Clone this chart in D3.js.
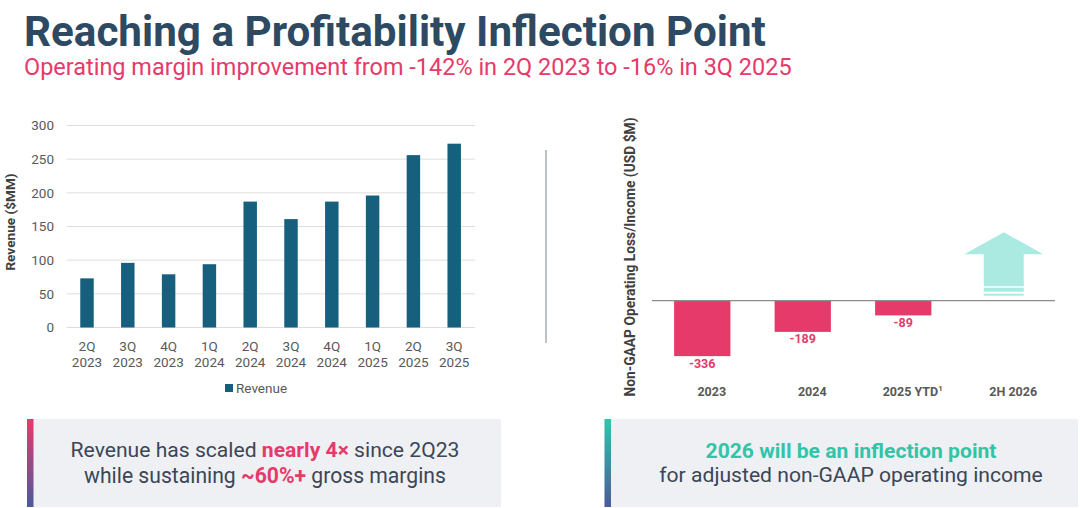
<!DOCTYPE html>
<html>
<head>
<meta charset="utf-8">
<script src="https://cdn.jsdelivr.net/npm/d3@7"></script>
<style>
  html, body { margin: 0; padding: 0; background: #fff; }
  svg { display: block; font-family: Roboto, "Noto Sans", sans-serif; }
</style>
</head>
<body>
<svg id="chart" width="1080" height="508"></svg>
<script>
// revenue by quarter ($MM)
const quarters = ['2Q 2023', '3Q 2023', '4Q 2023', '1Q 2024', '2Q 2024', '3Q 2024', '4Q 2024', '1Q 2025', '2Q 2025', '3Q 2025']
const revenue = [73, 96, 79, 94, 187, 161, 187, 196, 256, 273]
const revenueTicks = [0, 50, 100, 150, 200, 250, 300]

// non-GAAP operating loss/income (USD $M)
const periods = ['2023', '2024', '2025 YTD', '2H 2026']
const opIncome = [-336, -189, -89, null]

const PINK = '#e63a6a'
const TEAL = '#33c4a8'
const NAVY = '#2e4a62'
const GRAY = '#595959'
const BODY = '#3b4656'

const svg = d3.select('#chart')
const defs = svg.append('defs')

// scale a text's font so it spans the width it has in the slide
function fitWidth(sel, width) {
  const size = +sel.attr('font-size')
  const w = sel.node().getBBox().width
  if (w > 0) sel.attr('font-size', (size * width) / w)
  return sel
}

// ---- titles
const title = svg.append('text')
  .attr('x', 24).attr('y', 45.5)
  .attr('font-size', 42).attr('font-weight', 700)
  .attr('fill', NAVY)
  .text('Reaching a Profitability Inflection Point')
fitWidth(title, 742)

const subtitle = svg.append('text')
  .attr('x', 24).attr('y', 75)
  .attr('font-size', 23.5)
  .attr('fill', PINK)
  .text('Operating margin improvement from -142% in 2Q 2023 to -16% in 3Q 2025')
fitWidth(subtitle, 768)

// ---- left: revenue bars
const x = d3.scaleBand().domain(quarters).range([66.6, 474.6]).paddingInner(0.67).paddingOuter(0.335)
const y = d3.scaleLinear().domain([0, 300]).range([327.5, 125.5])

const left = svg.append('g')

left.append('g')
  .selectAll('line')
  .data(revenueTicks)
  .join('line')
  .attr('x1', 67).attr('x2', 475)
  .attr('y1', (d) => y(d)).attr('y2', (d) => y(d))
  .attr('stroke', '#dedede').attr('stroke-width', 1)

left.append('g')
  .selectAll('text')
  .data(revenueTicks)
  .join('text')
  .attr('x', 54).attr('y', (d) => y(d))
  .attr('dy', '0.35em')
  .attr('text-anchor', 'end')
  .attr('font-size', 13.5).attr('fill', GRAY)
  .text((d) => d)

left.append('g')
  .selectAll('rect')
  .data(revenue)
  .join('rect')
  .attr('x', (d, i) => x(quarters[i]))
  .attr('width', x.bandwidth())
  .attr('y', (d) => y(d))
  .attr('height', (d) => y(0) - y(d))
  .attr('fill', '#16607e')

const xl = left.append('g')
  .selectAll('text')
  .data(quarters)
  .join('text')
  .attr('x', (d) => x(d) + x.bandwidth() / 2)
  .attr('y', 351)
  .attr('text-anchor', 'middle')
  .attr('font-size', 13.5).attr('fill', GRAY)
xl.append('tspan').text((d) => d.split(' ')[0])
xl.append('tspan')
  .attr('x', (d) => x(d) + x.bandwidth() / 2)
  .attr('dy', 15.5)
  .text((d) => d.split(' ')[1])

left.append('text')
  .attr('transform', 'translate(15, 222) rotate(-90)')
  .attr('text-anchor', 'middle')
  .attr('font-size', 13.6).attr('font-weight', 700).attr('fill', '#404040')
  .text('Revenue ($MM)')

left.append('rect')
  .attr('x', 225).attr('y', 384).attr('width', 8).attr('height', 8)
  .attr('fill', '#16607e')
left.append('text')
  .attr('x', 236).attr('y', 388).attr('dy', '0.35em')
  .attr('font-size', 13.5).attr('fill', GRAY)
  .text('Revenue')

// divider
svg.append('line')
  .attr('x1', 546).attr('x2', 546).attr('y1', 150).attr('y2', 343)
  .attr('stroke', '#a9adb3').attr('stroke-width', 1.5)

// ---- right: operating loss / income
const x2 = d3.scaleBand().domain(periods).range([652, 1054]).paddingInner(0.44).paddingOuter(0.22)
const y2 = d3.scaleLinear().domain([-400, 400]).range([366.7, 234.7])

const right = svg.append('g')

right.append('g')
  .selectAll('rect')
  .data(opIncome.filter((d) => d != null))
  .join('rect')
  .attr('x', (d, i) => x2(periods[i]))
  .attr('width', x2.bandwidth())
  .attr('y', y2(0))
  .attr('height', (d) => y2(d) - y2(0))
  .attr('fill', PINK)

right.append('g')
  .selectAll('text')
  .data(opIncome.filter((d) => d != null))
  .join('text')
  .attr('x', (d, i) => x2(periods[i]) + x2.bandwidth() / 2)
  .attr('y', (d) => y2(d) + 11.5)
  .attr('text-anchor', 'middle')
  .attr('font-size', 12.5).attr('font-weight', 700).attr('fill', PINK)
  .text((d) => d)

right.append('line')
  .attr('x1', 652).attr('x2', 1055)
  .attr('y1', y2(0)).attr('y2', y2(0))
  .attr('stroke', '#8c8c8c').attr('stroke-width', 1.3)

// up arrow for the 2H 2026 outlook
const ax = x2('2H 2026') + x2.bandwidth() / 2
const y0 = y2(0)
const arrow = right.append('g').attr('fill', '#abeae0')
arrow.append('path')
  .attr('d', `M${ax},${y0 - 68.5} L${ax + 39.5},${y0 - 46.5} L${ax + 20},${y0 - 46.5} L${ax + 20},${y0 - 14.5} ` +
    `L${ax - 20},${y0 - 14.5} L${ax - 20},${y0 - 46.5} L${ax - 39.5},${y0 - 46.5} Z`)
arrow.append('rect').attr('x', ax - 20).attr('width', 40).attr('y', y0 - 13).attr('height', 4)
arrow.append('rect').attr('x', ax - 20).attr('width', 40).attr('y', y0 - 7).attr('height', 2)

// category labels sit a little right of the bar centres in the original
const cl = right.append('g')
  .selectAll('text')
  .data(periods)
  .join('text')
  .attr('x', (d) => x2(d) + x2.bandwidth() / 2 + 9.5)
  .attr('y', 396)
  .attr('text-anchor', 'middle')
  .attr('font-size', 12.5).attr('font-weight', 700).attr('fill', GRAY)
  .text((d) => d)
cl.filter((d) => d === '2025 YTD')
  .append('tspan')
  .attr('font-size', 8).attr('dy', -5)
  .text('1')

right.append('text')
  .attr('transform', 'translate(635, 257) rotate(-90)')
  .attr('text-anchor', 'middle')
  .attr('font-size', 13.8).attr('font-weight', 700).attr('fill', '#404040')
  .text('Non-GAAP Operating Loss/Income (USD $M)')

// ---- callout boxes
function gradient(id, top, bottom) {
  const g = defs.append('linearGradient').attr('id', id)
    .attr('x1', 0).attr('x2', 0).attr('y1', 0).attr('y2', 1)
  g.append('stop').attr('offset', 0).attr('stop-color', top)
  g.append('stop').attr('offset', 1).attr('stop-color', bottom)
}
gradient('gradPink', '#e83a6a', '#4a5a9c')
gradient('gradTeal', '#33c4a8', '#4a5a9c')

function callout(x0, x1, grad) {
  const g = svg.append('g')
  g.append('rect').attr('x', x0).attr('y', 419).attr('width', x1 - x0).attr('height', 88).attr('fill', '#eef0f4')
  g.append('rect').attr('x', x0).attr('y', 419).attr('width', 6.5).attr('height', 88).attr('fill', `url(#${grad})`)
  return g
}

const b1 = callout(27, 501, 'gradPink')
const t1 = b1.append('text').attr('x', 265).attr('y', 457).attr('text-anchor', 'middle')
  .attr('font-size', 20).attr('fill', BODY)
t1.append('tspan').text('Revenue has scaled ')
t1.append('tspan').attr('font-weight', 700).attr('fill', PINK).text('nearly 4×')
t1.append('tspan').text(' since 2Q23')
fitWidth(t1, 389)
const t2 = b1.append('text').attr('x', 265).attr('y', 482.5).attr('text-anchor', 'middle')
  .attr('font-size', 20).attr('fill', BODY)
t2.append('tspan').text('while sustaining ')
t2.append('tspan').attr('font-weight', 700).attr('fill', PINK).text('~60%+')
t2.append('tspan').text(' gross margins')
fitWidth(t2, 362)

const b2 = callout(604.5, 1078, 'gradTeal')
const t3 = b2.append('text').attr('x', 851).attr('y', 457.5).attr('text-anchor', 'middle')
  .attr('font-size', 21).attr('font-weight', 700).attr('fill', TEAL)
  .text('2026 will be an inflection point')
fitWidth(t3, 291)
const t4 = b2.append('text').attr('x', 851).attr('y', 482).attr('text-anchor', 'middle')
  .attr('font-size', 21).attr('fill', BODY)
  .text('for adjusted non-GAAP operating income')
fitWidth(t4, 384)
</script>
</body>
</html>
